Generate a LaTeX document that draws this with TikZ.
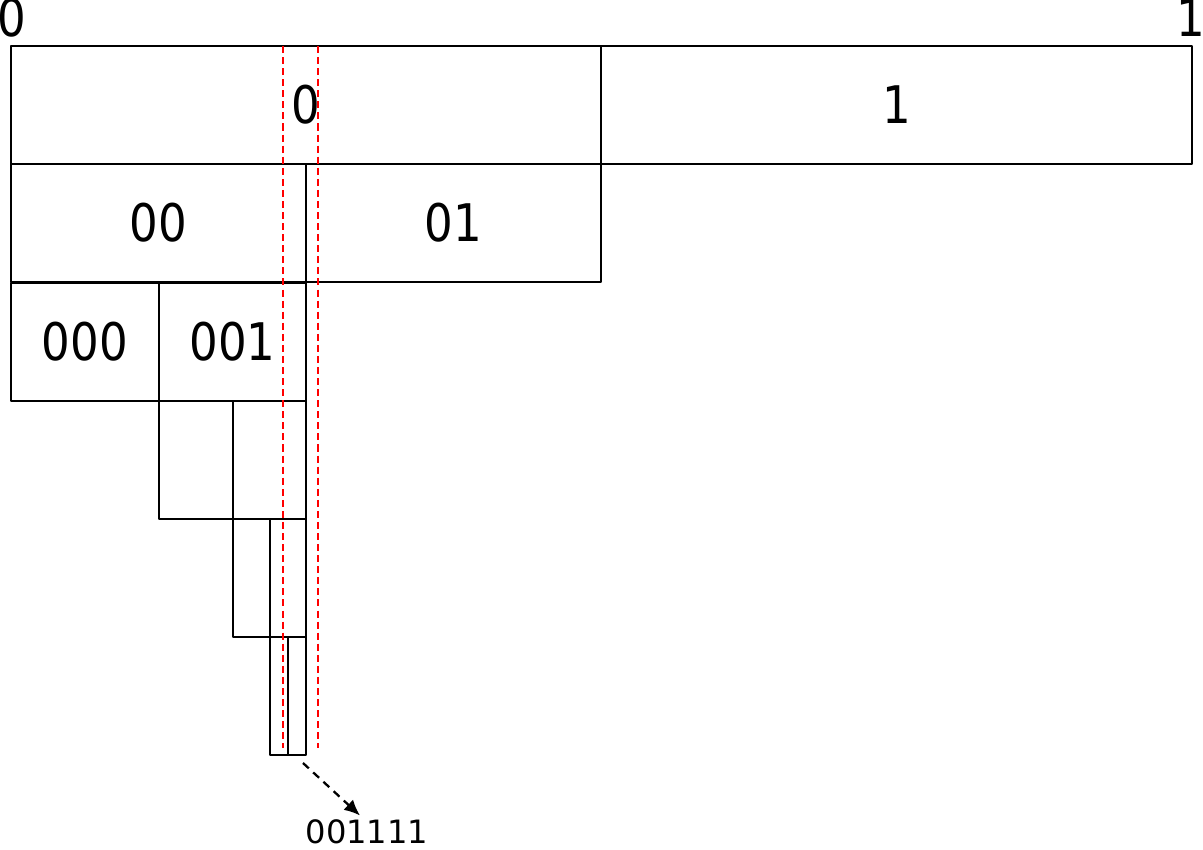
\documentclass[tikz,border=0pt]{standalone}
\usepackage{fontspec}
\setmainfont{DejaVu Sans}[FakeStretch=0.87]
\newfontfamily\tagfont{DejaVu Sans}
\usetikzlibrary{arrows.meta}
\begin{document}
\begin{tikzpicture}[x=0.02cm, y=-0.02cm, >={Latex[length=9pt,width=8pt]}, line join=round,
    cell/.style={draw, line width=1.3pt, inner sep=0pt, outer sep=0pt, anchor=north west,
      minimum height=118*0.02cm, font=\fontsize{29.5}{30}\selectfont},
    cut/.style={red, line width=1.3pt, dash pattern=on 4pt off 2.3pt},
    tag/.style={inner sep=0pt, font=\tagfont\fontsize{18.3}{20}\selectfont}]
  \useasboundingbox (0,0) rectangle (1203,849);
  % end points of the interval
  \node[inner sep=0pt, font=\fontsize{29.5}{30}\selectfont] (lo) at (12,18) {0};
  \node[inner sep=0pt, font=\fontsize{29.5}{30}\selectfont] (hi) at (1191,18) {1};
  % subintervals, one row per bit
  \foreach \n/\x/\y/\w/\t in {c0/11/46/590/0, c1/601/46/591/1,
      c00/11/164/295/00, c01/306/164/295/01,
      c000/11/283/148/000, c001/159/283/147/001,
      c0010/159/401/74/, c0011/233/401/73/,
      c00110/233/519/37/, c00111/270/519/36/,
      c001110/270/637/18/, c001111/288/637/18/}
    \node[cell, minimum width=\w*0.02cm] (\n) at (\x,\y) {\t};
  % target range
  \draw[cut] (283,46) -- (283,748);
  \draw[cut] (318,46) -- (318,748);
  \node[tag] (code) at (367,832) {001111};
  \draw[->, line width=1.3pt, dash pattern=on 4.5pt off 3.4pt]
    ([shift={(-3,8)}]c001111.south east) -- ([shift={(-7,-4)}]code.north);
\end{tikzpicture}
\end{document}
